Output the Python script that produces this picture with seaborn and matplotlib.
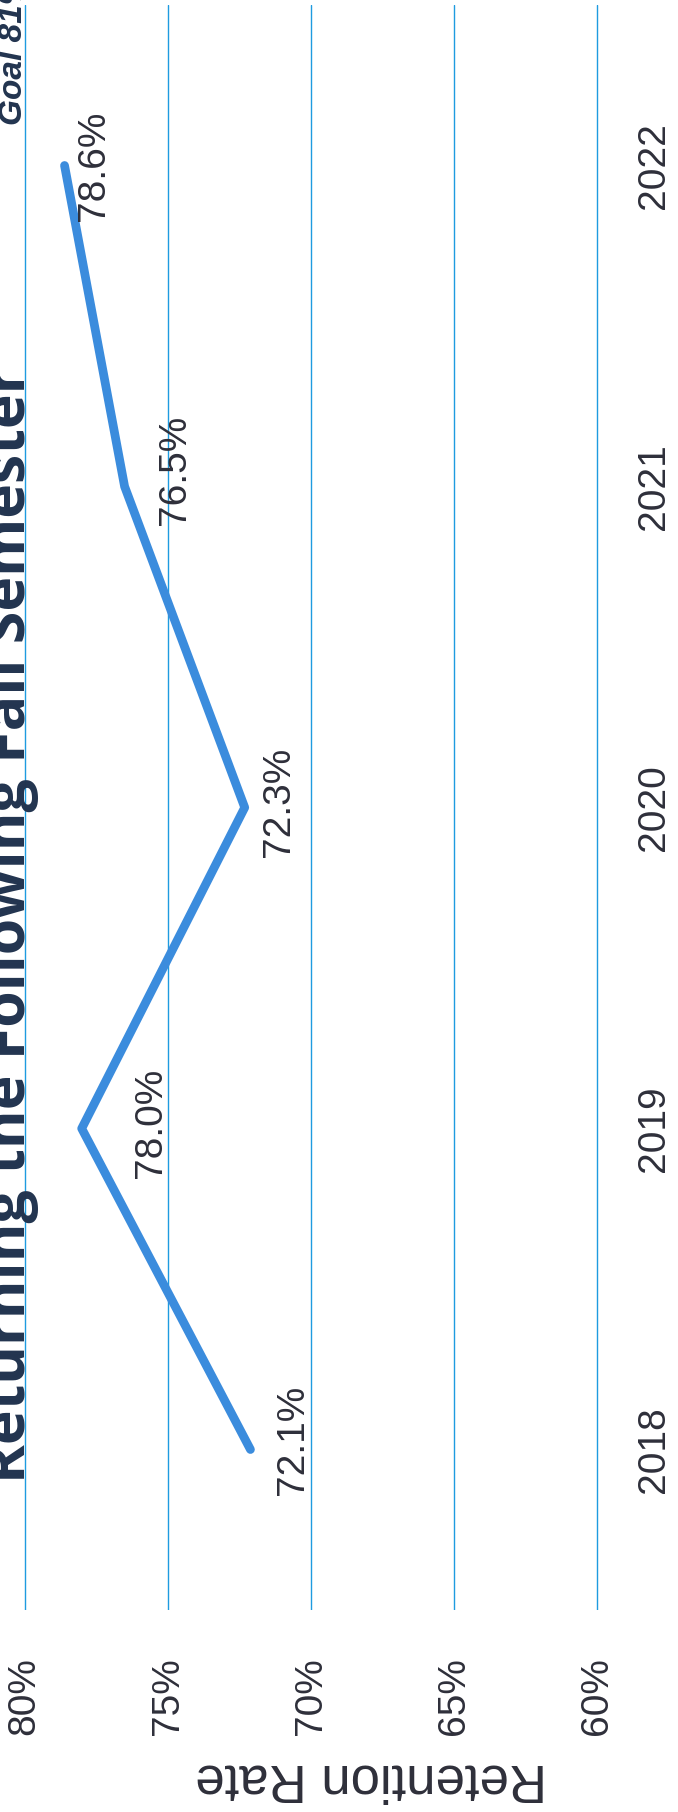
import matplotlib
matplotlib.use("Agg")
import matplotlib.pyplot as plt
import seaborn as sns
import pandas as pd

# chart data (page is scanned rotated, so rate runs left->right, years bottom->top)
years = [2018, 2019, 2020, 2021, 2022]
retention = [72.1, 78.0, 72.3, 76.5, 78.6]
rate_ticks = [60, 65, 70, 75, 80]
goal = 81
title = "Returning the Following Fall Semester"
# nudges for the value labels, in points (right, up on the page)
label_offsets = [(31, 7), (50, 4), (25, 4), (36, 12), (21, 0)]

line_c = "#3B8CDD"
grid_c = "#1E9BE0"
text_c = "#2E2F3A"
title_c = "#22344F"

sns.set_theme(style="white")
plt.rcParams["font.family"] = ["Liberation Sans", "DejaVu Sans"]

W, H = 678, 1812
fig = plt.figure(figsize=(W / 100, H / 100), dpi=100)
ax = fig.add_axes([0, (H - 1610) / H, 600 / W, 1605 / H])

df = pd.DataFrame({"year": years, "rate": retention})
sns.lineplot(
    data=df,
    x="rate",
    y="year",
    orient="y",
    sort=False,
    color=line_c,
    linewidth=6.3,
    solid_capstyle="round",
    ax=ax,
)
ax.axvline(goal, color=grid_c, linewidth=1.0)

ax.set_xlim(80 + 24.5 / 28.6, 80 - (600 - 24.5) / 28.6)
ax.set_ylim(2017.5, 2022.5)
ax.set_xticks(rate_ticks)
ax.set_xticklabels([str(t) + "%" for t in rate_ticks])
ax.set_yticks(years)
ax.set_yticklabels([str(y) for y in years])
ax.yaxis.tick_right()
ax.grid(axis="x", color=grid_c, linewidth=1.0)
ax.grid(axis="y", visible=False)
for s in ax.spines.values():
    s.set_visible(False)
ax.tick_params(axis="x", length=0, pad=34, labelsize=28, labelcolor=text_c, labelrotation=90)
ax.tick_params(axis="y", length=0, pad=26, labelsize=28, labelcolor=text_c, labelrotation=90)
for lbl in ax.get_yticklabels():
    lbl.set_va("center")
ax.set_xlabel("")
ax.set_ylabel("")

for yr, v, (dx, dy) in zip(years, retention, label_offsets):
    ax.annotate(
        f"{v:.1f}%",
        xy=(v, yr),
        xytext=(dx, dy),
        textcoords="offset points",
        rotation=90,
        ha="center",
        va="center",
        fontsize=28,
        color=text_c,
    )

fig.text(22 / W, (H - 125) / H, "Goal " + str(goal) + "%", rotation=90, rotation_mode="anchor",
         ha="left", va="baseline", fontsize=24, fontweight="bold", fontstyle="italic", color=title_c)
fig.text(25 / W, (H - 925) / H, title, rotation=90, rotation_mode="anchor",
         ha="center", va="baseline", fontsize=42.5, fontweight="bold",
         family=["Open Sans", "DejaVu Sans"], color=title_c)
fig.text(371 / W, 48 / H, "Retention Rate", rotation=180, rotation_mode="anchor",
         ha="center", va="baseline", fontsize=38, color=text_c)

fig.savefig("out.png", dpi=100)
